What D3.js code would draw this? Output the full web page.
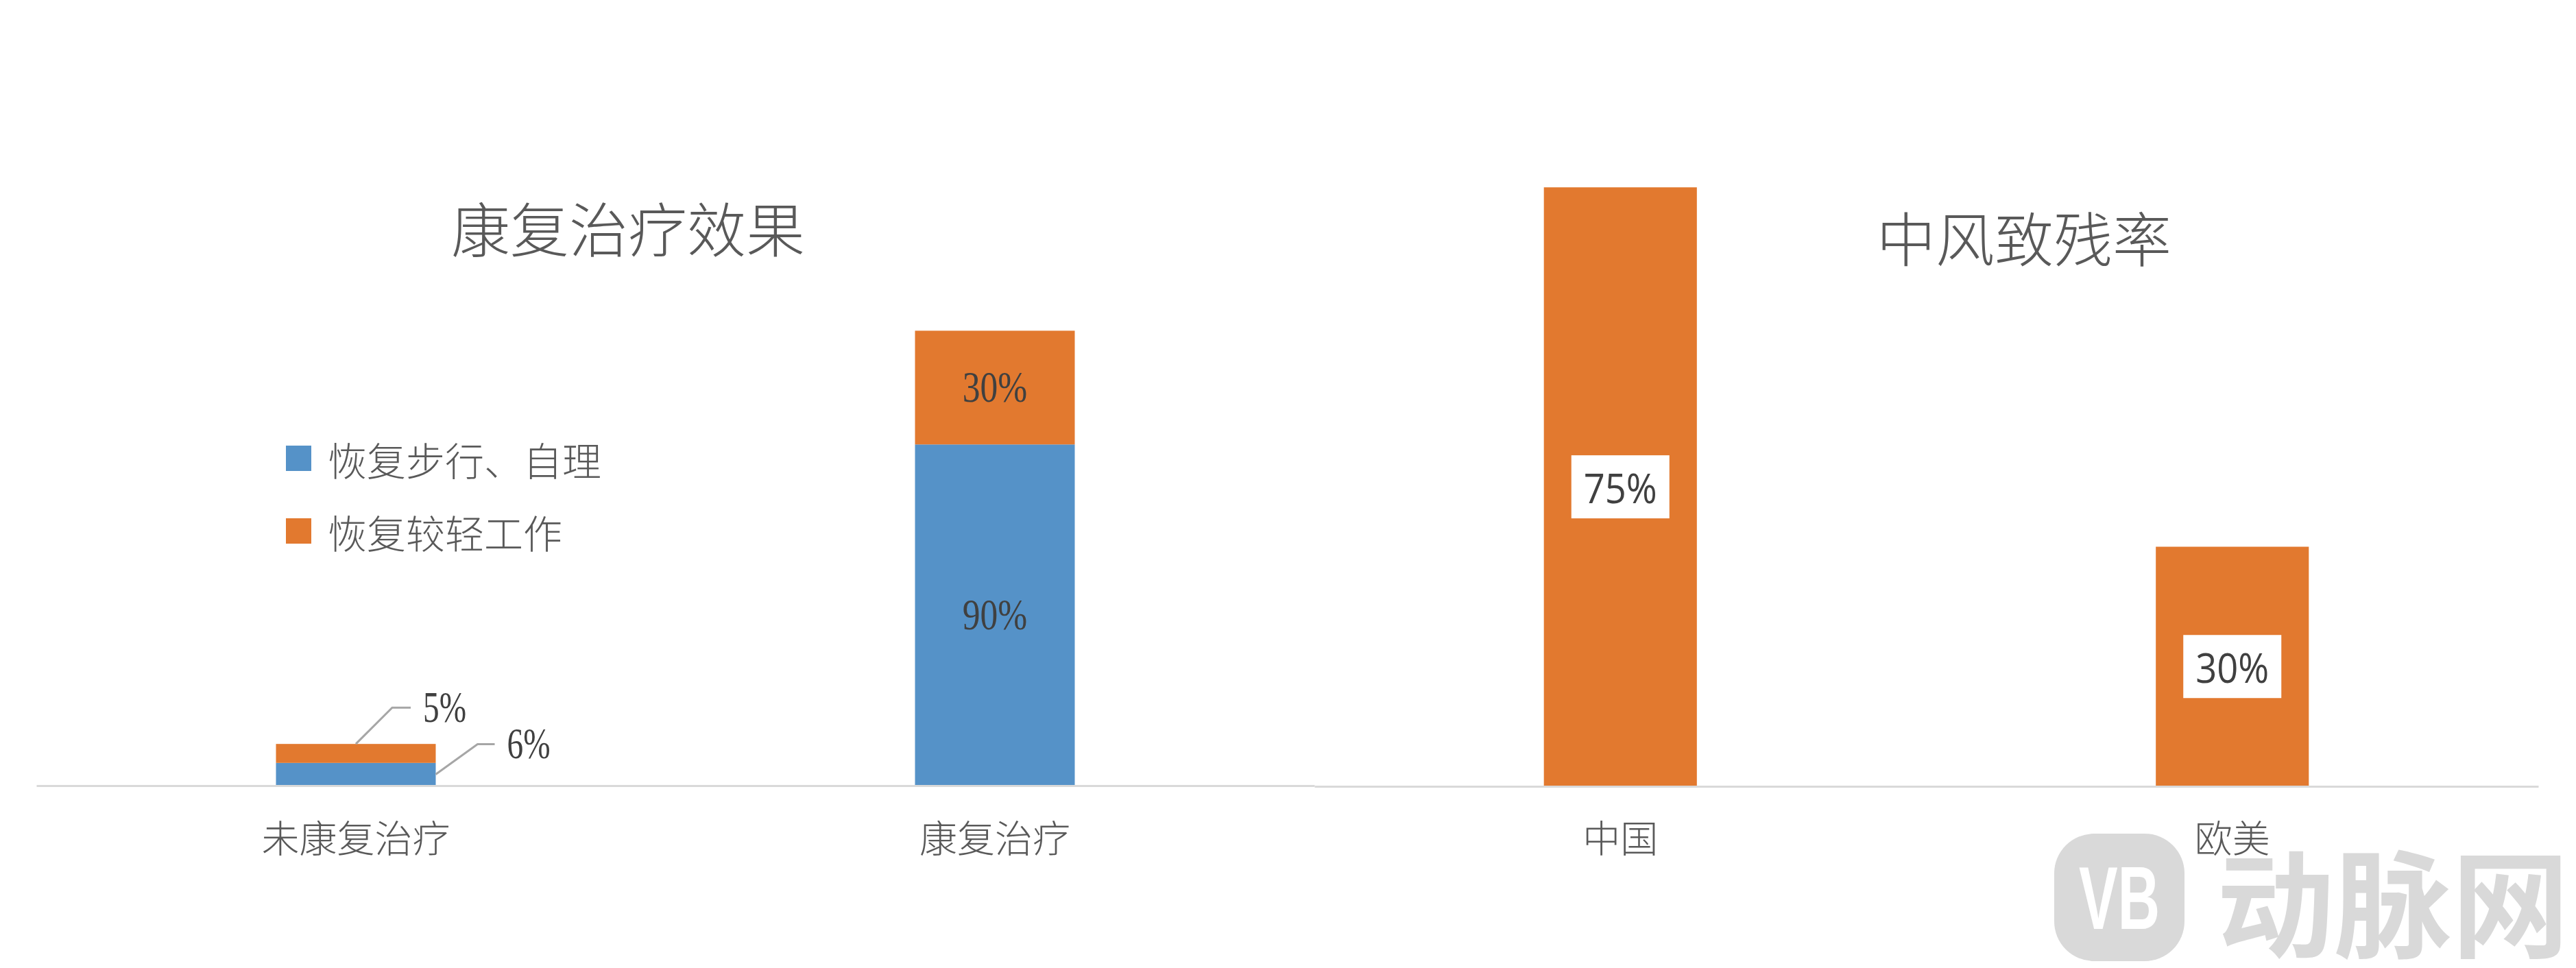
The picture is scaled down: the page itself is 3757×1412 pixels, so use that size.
<!DOCTYPE html>
<html>
<head>
<meta charset="utf-8">
<script src="https://cdn.jsdelivr.net/npm/d3@7"></script>
<style>
  body { margin: 0; background: #fff; }
  svg { display: block; }
  .cjk { font-family: "Noto Sans CJK SC", sans-serif; font-weight: 300; fill: #595959; }
</style>
</head>
<body>
<svg id="chart" width="3757" height="1412"></svg>
<script>
// left chart: 康复治疗效果
var effectCats = ["未康复治疗", "康复治疗"];
var walkSelf = [0.06, 0.90];      // 恢复步行、自理
var lightWork = [0.05, 0.30];     // 恢复较轻工作
var legendNames = ["恢复步行、自理", "恢复较轻工作"];
// right chart: 中风致残率
var regions = ["中国", "欧美"];
var disabilityRate = [0.75, 0.30];

var blue = "#5592c8", orange = "#e2792f";
var fmt = d3.format(".0%");

var svg = d3.select("#chart");

var x1 = d3.scaleBand().domain(effectCats).range([53, 1917]).paddingInner(0.75).paddingOuter(0.375);
var y1 = d3.scaleLinear().domain([0, 1.4]).range([1146, 1146 - 553 * 1.4]);

var x2 = d3.scaleBand().domain(regions).range([1917, 3702]).paddingInner(0.75).paddingOuter(0.375);
var y2 = d3.scaleLinear().domain([0, 0.8]).range([1147, 1147 - 1165 * 0.8]);

// watermark, bottom right
var wm = svg.append("g");
wm.append("rect").attr("x", 2996).attr("y", 1216).attr("width", 190).attr("height", 186)
  .attr("rx", 58).attr("fill", "#d9d9d9");
wm.append("text").attr("x", 3091).attr("y", 1310)
  .attr("text-anchor", "middle").attr("dominant-baseline", "central")
  .style("font-family", "'Liberation Sans Narrow', 'Liberation Sans', sans-serif")
  .style("font-weight", "bold").style("font-size", "130px").style("fill", "#fff")
  .attr("textLength", 118).attr("lengthAdjust", "spacingAndGlyphs")
  .text("VB");
wm.append("text").attr("x", 3233).attr("y", 1310)
  .attr("dominant-baseline", "central")
  .style("font-family", "'Noto Sans CJK SC', sans-serif").style("font-weight", "bold")
  .style("font-size", "170px").style("fill", "#d9d9d9")
  .attr("textLength", 514).attr("lengthAdjust", "spacingAndGlyphs")
  .text("动脉网");

// ---- left chart ----
var stackData = effectCats.map(function(c, i) { return {cat: c, walk: walkSelf[i], work: lightWork[i]}; });
var series = d3.stack().keys(["walk", "work"])(stackData);
var colorOf = {walk: blue, work: orange};

svg.append("g").selectAll("g")
    .data(series)
  .enter().append("g")
    .attr("fill", function(s) { return colorOf[s.key]; })
  .selectAll("rect")
    .data(function(s) { return s; })
  .enter().append("rect")
    .attr("x", function(d) { return x1(d.data.cat); })
    .attr("width", x1.bandwidth())
    .attr("y", function(d) { return y1(d[1]); })
    .attr("height", function(d) { return y1(d[0]) - y1(d[1]); });

var serifLabel = function(sel, fs) {
  sel.style("font-family", "'Liberation Serif', serif")
    .style("font-size", fs + "px").style("fill", "#404040")
    .attr("lengthAdjust", "spacingAndGlyphs")
    .attr("textLength", function(d) { return this.textContent.length * fs * 0.5; });
};

// in-bar labels for the tall bar
series.forEach(function(s) {
  var d = s[1];
  svg.append("text")
    .attr("x", x1(d.data.cat) + x1.bandwidth() / 2)
    .attr("y", (y1(d[0]) + y1(d[1])) / 2)
    .attr("text-anchor", "middle").attr("dominant-baseline", "central")
    .text(fmt(d[1] - d[0]))
    .call(serifLabel, 63);
});

// leader labels for the small bar
var small = {walk: series[0][0], work: series[1][0]};
var cx0 = x1(effectCats[0]) + x1.bandwidth() / 2;
var right0 = x1(effectCats[0]) + x1.bandwidth();
var leaders = [
  {v: small.work[1] - small.work[0], sx: cx0, sy: y1(small.work[1]), dx: 53, dy: -53, run: 27},
  {v: small.walk[1] - small.walk[0], sx: right0, sy: (y1(small.walk[0]) + y1(small.walk[1])) / 2, dx: 61, dy: -44, run: 25}
];
leaders.forEach(function(l) {
  var ex = l.sx + l.dx, ey = l.sy + l.dy;
  svg.append("polyline")
    .attr("points", [[l.sx, l.sy], [ex, ey], [ex + l.run, ey]].map(function(p) { return p.join(","); }).join(" "))
    .attr("fill", "none").attr("stroke", "#a6a6a6").attr("stroke-width", 3);
  svg.append("text")
    .attr("x", ex + l.run + 18).attr("y", ey)
    .attr("dominant-baseline", "central")
    .text(fmt(l.v))
    .call(serifLabel, 63);
});

// left axis
svg.append("g")
    .attr("transform", "translate(0," + y1(0) + ")")
    .call(d3.axisBottom(x1).tickSize(0).tickSizeOuter(0))
    .call(function(g) {
      g.select(".domain").attr("stroke", "#d9d9d9").attr("stroke-width", 3);
      g.selectAll("text").attr("class", "cjk").attr("y", 73).attr("dy", null)
        .attr("dominant-baseline", "central").style("font-size", "55px");
    });

// left title
svg.append("text").attr("class", "cjk")
  .attr("x", 916).attr("y", 330)
  .attr("text-anchor", "middle").attr("dominant-baseline", "central")
  .style("font-size", "86px")
  .text("康复治疗效果");

// legend
var legend = svg.append("g").selectAll("g")
    .data(legendNames)
  .enter().append("g")
    .attr("transform", function(d, i) { return "translate(417," + (650 + i * 106) + ")"; });
legend.append("rect").attr("width", 37).attr("height", 37)
  .attr("fill", function(d, i) { return i === 0 ? blue : orange; });
legend.append("text").attr("class", "cjk")
  .attr("x", 61).attr("y", 18.5).attr("dominant-baseline", "central")
  .style("font-size", "57px")
  .text(function(d) { return d; });

// ---- right chart ----
var bars2 = svg.append("g").selectAll("g")
    .data(regions)
  .enter().append("g");
bars2.append("rect")
  .attr("x", function(d) { return x2(d); })
  .attr("width", x2.bandwidth())
  .attr("y", function(d, i) { return y2(disabilityRate[i]); })
  .attr("height", function(d, i) { return y2(0) - y2(disabilityRate[i]); })
  .attr("fill", orange);
bars2.append("rect")
  .attr("x", function(d) { return x2(d) + x2.bandwidth() / 2 - 71.5; })
  .attr("y", function(d, i) { return (y2(0) + y2(disabilityRate[i])) / 2 - 46; })
  .attr("width", 143).attr("height", 92)
  .attr("fill", "#fff");
bars2.append("text")
  .attr("x", function(d) { return x2(d) + x2.bandwidth() / 2; })
  .attr("y", function(d, i) { return (y2(0) + y2(disabilityRate[i])) / 2; })
  .attr("text-anchor", "middle").attr("dominant-baseline", "central")
  .style("font-family", "'Open Sans', sans-serif").style("font-size", "61px").style("fill", "#404040")
  .attr("textLength", 107).attr("lengthAdjust", "spacingAndGlyphs")
  .text(function(d, i) { return fmt(disabilityRate[i]); });

svg.append("g")
    .attr("transform", "translate(0," + y2(0) + ")")
    .call(d3.axisBottom(x2).tickSize(0).tickSizeOuter(0))
    .call(function(g) {
      g.select(".domain").attr("stroke", "#d9d9d9").attr("stroke-width", 3);
      g.selectAll("text").attr("class", "cjk").attr("y", 72).attr("dy", null)
        .attr("dominant-baseline", "central").style("font-size", "55px");
    });

svg.append("text").attr("class", "cjk")
  .attr("x", 2952).attr("y", 344)
  .attr("text-anchor", "middle").attr("dominant-baseline", "central")
  .style("font-size", "86px")
  .text("中风致残率");
</script>
</body>
</html>
